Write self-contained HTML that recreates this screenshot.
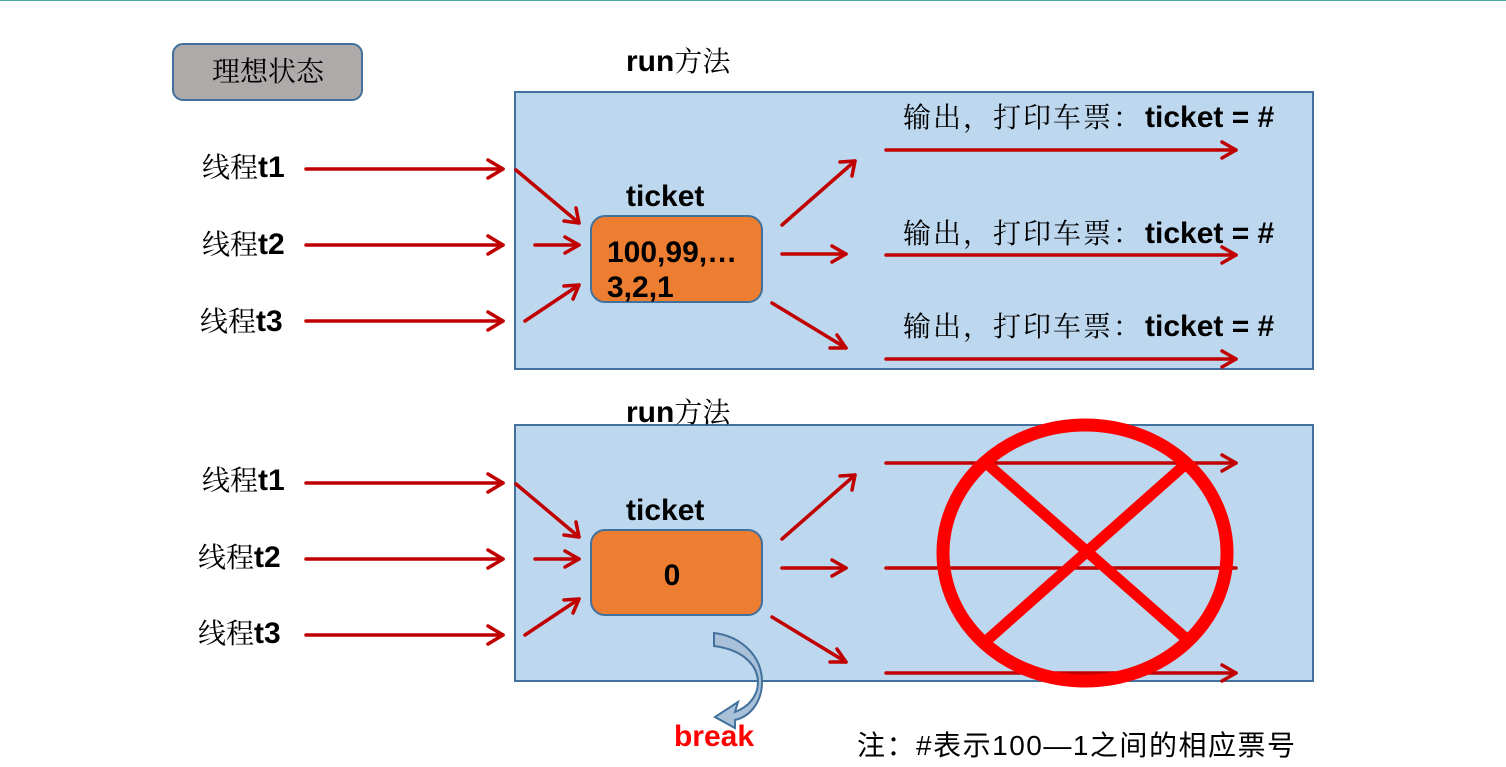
<!DOCTYPE html>
<html><head><meta charset="utf-8"><style>
html,body{margin:0;padding:0;background:#fff;}
svg{display:block;}
.cn{font-family:"Liberation Serif","Noto Serif CJK SC",serif;font-size:28px;fill:#000;}
.b{font-family:"Liberation Sans",sans-serif;font-weight:bold;fill:#000;font-size:30px;}
</style></head><body>
<svg width="1506" height="767" viewBox="0 0 1506 767" xmlns="http://www.w3.org/2000/svg">
<line x1="0" y1="0.5" x2="1506" y2="0.5" stroke="#4aa8a0" stroke-width="1"/>
<rect x="173" y="44" width="189" height="56" rx="10" fill="#aeaaa9" stroke="#41719c" stroke-width="2"/>
<text x="268" y="81" class="cn" text-anchor="middle" font-size="29">理想状态</text>

<rect x="515" y="92" width="798" height="277" fill="#bdd7ee" stroke="#41719c" stroke-width="2"/>
<text x="626" y="71" class="b">run<tspan class="cn" font-weight="normal" font-size="29">方法</tspan></text>
<rect x="591" y="216" width="171" height="86" rx="14" fill="#ed7d31" stroke="#41719c" stroke-width="2"/>
<text x="626" y="206" class="b">ticket</text>
<text x="607" y="262" class="b">100,99,…</text>
<text x="607" y="297" class="b">3,2,1</text>
<text x="903" y="127" class="cn" font-size="29" textLength="238" lengthAdjust="spacing">输出，打印车票：</text><text x="1145" y="127" class="b">ticket = #</text>
<text x="903" y="243" class="cn" font-size="29" textLength="238" lengthAdjust="spacing">输出，打印车票：</text><text x="1145" y="243" class="b">ticket = #</text>
<text x="903" y="336" class="cn" font-size="29" textLength="238" lengthAdjust="spacing">输出，打印车票：</text><text x="1145" y="336" class="b">ticket = #</text>
<text x="202" y="177" class="cn">线程<tspan class="b">t1</tspan></text>
<text x="202" y="254" class="cn">线程<tspan class="b">t2</tspan></text>
<text x="200" y="331" class="cn">线程<tspan class="b">t3</tspan></text>

<rect x="515" y="425" width="798" height="256" fill="#bdd7ee" stroke="#41719c" stroke-width="2"/>
<text x="626" y="422" class="b">run<tspan class="cn" font-weight="normal" font-size="29">方法</tspan></text>
<rect x="591" y="530" width="171" height="85" rx="14" fill="#ed7d31" stroke="#41719c" stroke-width="2"/>
<text x="626" y="520" class="b">ticket</text>
<text x="672" y="585" class="b" font-size="28" text-anchor="middle">0</text>
<text x="202" y="490" class="cn">线程<tspan class="b">t1</tspan></text>
<text x="198" y="567" class="cn">线程<tspan class="b">t2</tspan></text>
<text x="198" y="643" class="cn">线程<tspan class="b">t3</tspan></text>

<g stroke="#c00000" stroke-width="3.5" fill="none" stroke-linecap="round" stroke-linejoin="round">
<line x1="306" y1="169" x2="503" y2="169"/><polyline points="488,160 503,169 488,178"/>
<line x1="306" y1="245" x2="503" y2="245"/><polyline points="488,236 503,245 488,254"/>
<line x1="306" y1="321" x2="503" y2="321"/><polyline points="488,312 503,321 488,330"/>
<line x1="516" y1="170" x2="579" y2="223"/><polyline points="564,221 579,223 576,208"/>
<line x1="535" y1="245" x2="579" y2="245"/><polyline points="565,237 579,245 565,253"/>
<line x1="525" y1="321" x2="579" y2="285"/><polyline points="564,286 579,285 573,299"/>
<line x1="782" y1="225" x2="855" y2="161"/><polyline points="840,162 855,161 852,176"/>
<line x1="782" y1="254" x2="846" y2="254"/><polyline points="832,246 846,254 832,262"/>
<line x1="772" y1="303" x2="846" y2="348"/><polyline points="837,335 846,348 830,348"/>
<line x1="886" y1="150" x2="1236" y2="150"/><polyline points="1222,142 1236,150 1222,158"/>
<line x1="886" y1="255" x2="1236" y2="255"/><polyline points="1222,247 1236,255 1222,263"/>
<line x1="886" y1="359" x2="1236" y2="359"/><polyline points="1222,351 1236,359 1222,367"/>
<line x1="306" y1="483" x2="503" y2="483"/><polyline points="488,474 503,483 488,492"/>
<line x1="306" y1="559" x2="503" y2="559"/><polyline points="488,550 503,559 488,568"/>
<line x1="306" y1="635" x2="503" y2="635"/><polyline points="488,626 503,635 488,644"/>
<line x1="516" y1="484" x2="579" y2="537"/><polyline points="564,535 579,537 576,522"/>
<line x1="535" y1="559" x2="579" y2="559"/><polyline points="565,551 579,559 565,567"/>
<line x1="525" y1="635" x2="579" y2="599"/><polyline points="564,600 579,599 573,613"/>
<line x1="782" y1="539" x2="855" y2="475"/><polyline points="840,476 855,475 852,490"/>
<line x1="782" y1="568" x2="846" y2="568"/><polyline points="832,560 846,568 832,576"/>
<line x1="772" y1="617" x2="846" y2="662"/><polyline points="837,649 846,662 830,662"/>
<line x1="886" y1="463" x2="1236" y2="463"/><polyline points="1222,455 1236,463 1222,471"/>
<line x1="886" y1="568" x2="1236" y2="568"/>
<line x1="886" y1="673" x2="1236" y2="673"/><polyline points="1222,665 1236,673 1222,681"/>
</g>
<ellipse cx="1085" cy="553" rx="142" ry="128" fill="none" stroke="#ff0000" stroke-width="13"/>
<g stroke="#ff0000" stroke-width="11">
<line x1="985" y1="462" x2="1190" y2="642"/>
<line x1="1188" y1="462" x2="985" y2="642"/>
</g>
<path d="M714,633 L714,646 C745,650 762,668 757,690 C753,702 745,708 735,712 L738,702 L715,717 L735,728 L735,720 C752,716 762,700 762,682 C762,655 740,636 714,633 Z" fill="#a9c0d9" stroke="#41719c" stroke-width="2"/>
<text x="714" y="746" class="b" font-size="28" text-anchor="middle" style="fill:#ff0000">break</text>
<text x="857" y="755" font-family="Liberation Sans, Noto Sans CJK SC, sans-serif" font-size="28" fill="#000" textLength="438" lengthAdjust="spacing">注：#表示100—1之间的相应票号</text>
</svg>
</body></html>
